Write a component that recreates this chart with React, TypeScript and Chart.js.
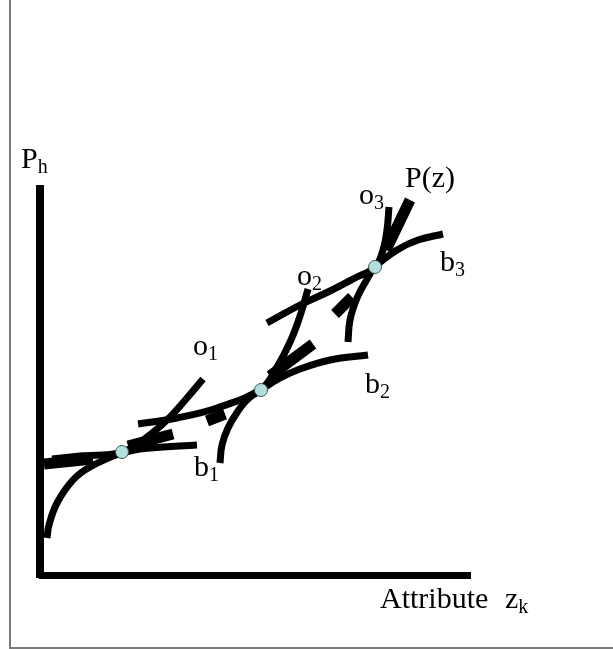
import React, { useEffect, useRef } from "react";
import { Chart, registerables } from "chart.js";

Chart.register(...registerables);

// Coordinates: x = attribute z (distance from origin), y = price P_h (height above origin)
const axisVertical = [
  { x: 0, y: -3 },
  { x: 0, y: 390 },
];
const axisHorizontal = [
  { x: -1, y: -0.5 },
  { x: 431, y: -0.5 },
];

// Hedonic price function P(z), drawn as thick visible pieces
const priceFunction = [
  { x: 4, y: 111 }, { x: 53, y: 116 }, { x: 53, y: null },
  { x: 88, y: 129 }, { x: 133, y: 141 }, { x: 133, y: null },
  { x: 167, y: 154 }, { x: 185, y: 161 }, { x: 185, y: null },
  { x: 230, y: 199 }, { x: 273, y: 231 }, { x: 273, y: null },
  { x: 295, y: 261 }, { x: 312, y: 278 }, { x: 312, y: null },
  { x: 346, y: 325 }, { x: 370, y: 375 },
];

// Bid curves (concave)
const bid1 = [
  { x: 7, y: 37 }, { x: 9, y: 50 }, { x: 17, y: 72 }, { x: 33, y: 95 },
  { x: 50, y: 108 }, { x: 82, y: 122 }, { x: 110, y: 127 }, { x: 157, y: 130 },
];
const bid2 = [
  { x: 180, y: 112 }, { x: 182, y: 130 }, { x: 188, y: 147 }, { x: 198, y: 164 },
  { x: 208, y: 176 }, { x: 221, y: 185 }, { x: 240, y: 197 }, { x: 260, y: 206 },
  { x: 290, y: 215 }, { x: 328, y: 220 },
];
const bid3 = [
  { x: 308, y: 233 }, { x: 310, y: 255 }, { x: 317, y: 277 }, { x: 326, y: 294 },
  { x: 335, y: 308 }, { x: 357, y: 325 }, { x: 378, y: 335 }, { x: 403, y: 341 },
];

// Offer curves (convex)
const offer1 = [
  { x: 12, y: 116 }, { x: 40, y: 119 }, { x: 82, y: 123 }, { x: 107, y: 138 },
  { x: 128, y: 156 }, { x: 147, y: 177 }, { x: 163, y: 196 },
];
const offer2 = [
  { x: 98, y: 151 }, { x: 137, y: 157 }, { x: 177, y: 167 }, { x: 221, y: 186 },
  { x: 237, y: 208 }, { x: 251, y: 235 }, { x: 261, y: 262 }, { x: 268, y: 286 },
];
const offer3 = [
  { x: 227, y: 252 }, { x: 260, y: 270 }, { x: 290, y: 284 }, { x: 315, y: 297 },
  { x: 335, y: 308 }, { x: 343, y: 325 }, { x: 347, y: 345 }, { x: 349, y: 368 },
];

// Tangency points
const equilibria = [
  { x: 82, y: 123 },
  { x: 221, y: 185 },
  { x: 335, y: 308 },
];

// Text labels: main text, subscript, anchor (left, baseline)
const labelTexts = ["P", "P(z)", "o", "o", "o", "b", "b", "b", "Attribute", "z"];
const labelSubs = ["h", "", "3", "2", "1", "3", "2", "1", "", "k"];
const labelX = [-19, 365, 319, 257, 153, 400, 325, 154, 340, 465];
const labelY = [407, 388, 371, 290, 220, 304, 182, 99, -33, -33];

const FONT = "'Liberation Serif', 'Times New Roman', serif";

const framePlugin = {
  id: "frame",
  beforeDraw(chart: any) {
    const ctx = chart.ctx;
    ctx.save();
    ctx.strokeStyle = "#7a7a7a";
    ctx.lineWidth = 2;
    ctx.beginPath();
    ctx.moveTo(10, 0);
    ctx.lineTo(10, 648);
    ctx.lineTo(613, 648);
    ctx.stroke();
    ctx.restore();
  },
  afterDraw(chart: any) {
    const ctx = chart.ctx;
    const xs = chart.scales.x;
    const ys = chart.scales.y;
    ctx.save();
    ctx.fillStyle = "#000";
    ctx.textAlign = "left";
    ctx.textBaseline = "alphabetic";
    for (let i = 0; i < labelTexts.length; i++) {
      const px = xs.getPixelForValue(labelX[i]);
      const py = ys.getPixelForValue(labelY[i]);
      ctx.font = `30px ${FONT}`;
      ctx.fillText(labelTexts[i], px, py);
      if (labelSubs[i]) {
        const w = ctx.measureText(labelTexts[i]).width;
        ctx.font = `20px ${FONT}`;
        ctx.fillText(labelSubs[i], px + w, py + 5);
      }
    }
    ctx.restore();
  },
};

function curve(data: any[], width: number, order: number) {
  return {
    type: "line" as const,
    data,
    borderColor: "#000",
    backgroundColor: "#000",
    borderWidth: width,
    borderCapStyle: "butt",
    borderJoinStyle: "round",
    pointRadius: 0,
    tension: 0.4,
    fill: false,
    spanGaps: false,
    order,
  };
}

export default function App() {
  const ref = useRef<HTMLCanvasElement | null>(null);
  useEffect(() => {
    if (!ref.current) return;
    const chart = new Chart(ref.current, {
      type: "line",
      data: {
        datasets: [
          {
            type: "scatter",
            data: equilibria,
            pointRadius: 6.5,
            pointBackgroundColor: "#b3dfdf",
            pointBorderColor: "#3d5a5a",
            pointBorderWidth: 1,
            showLine: false,
            order: 0,
          } as any,
          curve(bid1, 7, 1),
          curve(bid2, 7, 1),
          curve(bid3, 7, 1),
          curve(offer1, 7, 1),
          curve(offer2, 7, 1),
          curve(offer3, 7, 1),
          { ...curve(priceFunction, 11, 2), tension: 0 },
          { ...curve(axisVertical, 8, 3), tension: 0 },
          { ...curve(axisHorizontal, 7, 3), tension: 0 },
        ],
      },
      options: {
        animation: false,
        responsive: false,
        devicePixelRatio: 1,
        layout: { padding: 0, autoPadding: false },
        plugins: {
          legend: { display: false },
          tooltip: { enabled: false },
          title: { display: false },
        },
        events: [],
        scales: {
          x: { type: "linear", min: -40, max: 573, display: false },
          y: { type: "linear", min: -74, max: 575, display: false },
        },
      },
      plugins: [framePlugin],
    } as any);
    return () => chart.destroy();
  }, []);
  return (
    <div style={{ position: "fixed", left: 0, top: 0, width: 613, height: 649, background: "#fff" }}>
      <canvas ref={ref} width={613} height={649} style={{ width: 613, height: 649, display: "block" }} />
    </div>
  );
}
